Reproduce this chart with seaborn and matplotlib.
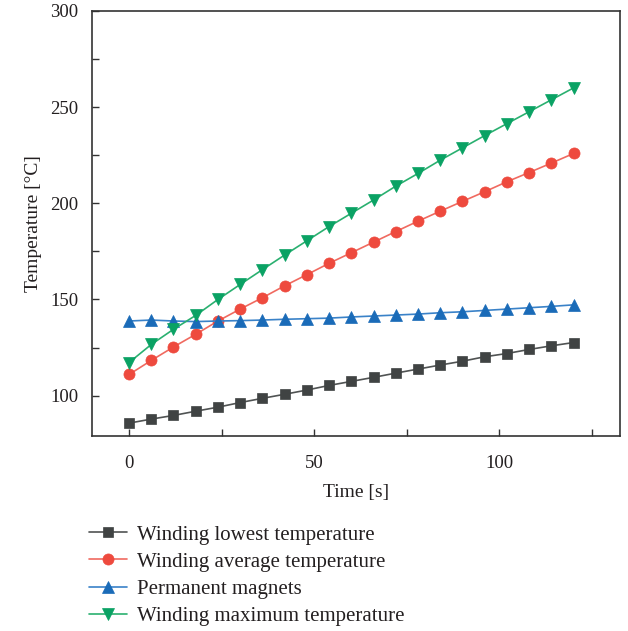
import numpy as np
import pandas as pd
import matplotlib
matplotlib.use("Agg")
import matplotlib.pyplot as plt
from matplotlib.ticker import MultipleLocator
import seaborn as sns

time_s = [0, 6, 12, 18, 24, 30, 36, 42, 48, 54, 60, 66, 72, 78, 84, 90, 96, 102, 108, 114, 120]
winding_lowest = [85.7, 87.8, 89.7, 91.9, 94.0, 96.4, 98.6, 100.7, 102.9, 105.3, 107.4,
                  109.5, 111.7, 113.8, 115.9, 117.9, 120.2, 121.9, 124.0, 125.9, 127.6]
winding_average = [111.0, 118.3, 125.3, 131.9, 138.8, 145.0, 150.9, 157.1, 162.9, 168.8, 174.3,
                   179.8, 185.3, 190.7, 195.9, 201.0, 206.0, 211.2, 216.0, 220.9, 225.9]
permanent_magnets = [138.8, 139.3, 138.8, 138.5, 138.8, 139.0, 139.3, 139.7, 140.0, 140.3, 140.9,
                     141.4, 141.9, 142.4, 143.1, 143.6, 144.3, 145.0, 145.7, 146.4, 147.2]
winding_maximum = [117.2, 126.6, 134.5, 141.7, 150.0, 157.8, 165.5, 173.1, 180.5, 187.9, 194.8,
                   201.7, 208.9, 215.5, 222.4, 228.8, 235.2, 241.4, 247.6, 253.8, 260.0]

series_names = ["Winding lowest temperature", "Winding average temperature",
                "Permanent magnets", "Winding maximum temperature"]
series_values = [winding_lowest, winding_average, permanent_magnets, winding_maximum]
marker_colors = ["#404343", "#ee4a3e", "#1a6bb8", "#0aa264"]
line_colors = ["#505353", "#f06a60", "#3a82c8", "#2ab070"]
markers = ["s", "o", "^", "v"]
msizes = [7.0, 8.0, 8.5, 8.5]

sns.set_theme(style="white")
plt.rcParams["font.family"] = ["Liberation Serif", "DejaVu Serif"]

fig = plt.figure(figsize=(6.28, 6.31), dpi=100)
ax = fig.add_axes([0.1465, 0.309, 0.8405, 0.6736])

df = pd.DataFrame({"Time": time_s * 4,
                   "Temp": sum(series_values, []),
                   "Series": sum([[n] * len(time_s) for n in series_names], [])})

for name, mc, lc, mk, ms in zip(series_names, marker_colors, line_colors, markers, msizes):
    sub = df[df["Series"] == name]
    sns.lineplot(data=sub, x="Time", y="Temp", ax=ax, color=lc, linewidth=1.2,
                 marker=mk, markersize=ms, markerfacecolor=mc, markeredgecolor=mc,
                 markeredgewidth=0.5, label=name)

ax.set_xlim(-10, 132.5)
ax.set_ylim(79, 300)
ax.xaxis.set_major_locator(MultipleLocator(50))
ax.xaxis.set_minor_locator(MultipleLocator(25))
ax.yaxis.set_major_locator(MultipleLocator(50))
ax.yaxis.set_minor_locator(MultipleLocator(25))
ax.tick_params(which="both", direction="in", length=5, width=1, color="#333333",
               labelsize=13.5, labelcolor="#231f20", top=False, right=False,
               bottom=True, left=True)
ax.tick_params(axis="x", pad=14)
ax.tick_params(axis="y", pad=10)
for s in ax.spines.values():
    s.set_color("#333333")
    s.set_linewidth(1.2)
    s.set_visible(True)

ax.set_xlabel("Time [s]", fontsize=14, color="#231f20", labelpad=8)
ax.set_ylabel("Temperature [°C]", fontsize=14, color="#231f20", labelpad=6)

leg = ax.legend(loc="upper left", bbox_to_anchor=(-0.022, -0.19), frameon=False,
                fontsize=15, handlelength=1.85, handletextpad=0.45,
                labelspacing=0.36, borderaxespad=0)
for t in leg.get_texts():
    t.set_color("#231f20")

fig.savefig("out.png", dpi=100)
